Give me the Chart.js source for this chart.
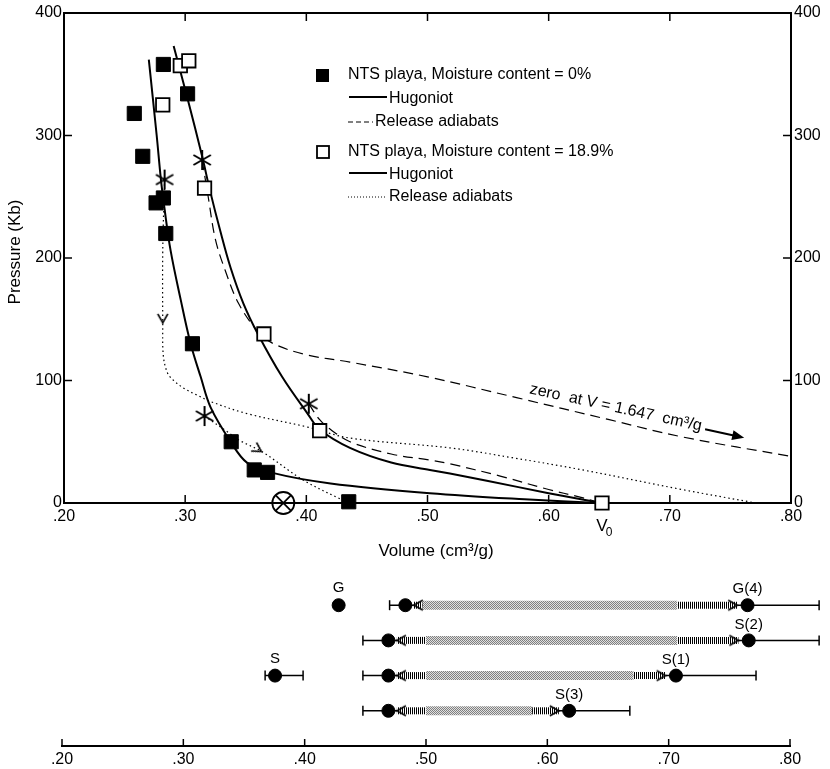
<!DOCTYPE html>
<html>
<head>
<meta charset="utf-8">
<script src="https://cdn.jsdelivr.net/npm/chart.js@4.4.0/dist/chart.umd.min.js"></script>
<style>
  html, body { margin: 0; padding: 0; background: #fff; }
  #wrap { position: relative; width: 830px; height: 769px; }
  #top { position: absolute; left: 0; top: 0; }
  #bottom { position: absolute; left: 0; top: 560px; }
</style>
</head>
<body>
<div id="wrap">
  <canvas id="top" width="830" height="560"></canvas>
  <canvas id="bottom" width="830" height="209"></canvas>
</div>
<script>
// ---- upper panel: pressure (kb) vs volume (cm3/g) ----
var dryVol   = [0.282, 0.302, 0.258, 0.265, 0.276, 0.282, 0.284, 0.306, 0.338, 0.357, 0.368, 0.435];
var dryPres  = [358, 334, 318, 283, 245, 249, 220, 130, 50, 27, 25, 1];
var wetVol   = [0.296, 0.303, 0.2815, 0.316, 0.365, 0.411, 0.644];
var wetPres  = [357, 361, 325, 257, 138, 59, 0];
var starVol  = [0.283, 0.314, 0.316, 0.402];
var starPres = [264, 280, 71, 81];
var crossVol = [0.381];
var crossPres = [0];

var hugDryVol  = [0.270, 0.2765, 0.280, 0.283, 0.288, 0.2963, 0.3045, 0.3128, 0.321, 0.3375, 0.351, 0.373, 0.42, 0.502, 0.58, 0.642];
var hugDryPres = [362, 300, 264, 240, 206, 166, 130, 103, 78, 50, 33, 24.4, 16, 8, 3, 0];
var hugWetVol  = [0.2905, 0.302, 0.314, 0.3205, 0.329, 0.3375, 0.348, 0.360, 0.380, 0.401, 0.411, 0.436, 0.47, 0.502, 0.5185, 0.55, 0.60, 0.644];
var hugWetPres = [373, 330, 283, 255, 222, 192, 163, 138, 103, 73, 60, 45, 33, 27, 24, 18, 8, 0];

var dashAVol  = [0.314, 0.319, 0.325, 0.333, 0.344, 0.360, 0.373, 0.40, 0.436, 0.50, 0.5735, 0.65, 0.71, 0.80];
var dashAPres = [280, 250, 215, 190, 163, 140, 130, 121, 115, 103, 86, 68, 54, 38];
var dashBVol  = [0.402, 0.411, 0.42, 0.436, 0.47, 0.502, 0.5185, 0.56, 0.60, 0.625, 0.64];
var dashBPres = [81, 68, 60, 50, 40, 35, 32, 22, 11, 5, 1];
var dotAVol  = [0.283, 0.2815, 0.2815, 0.282, 0.2855, 0.2905, 0.30, 0.31, 0.3205, 0.351, 0.401, 0.436, 0.5185, 0.57, 0.628, 0.71, 0.771];
var dotAPres = [264, 206, 147, 120, 106, 100, 93, 88, 83, 73, 62, 53, 45, 37, 27, 11, 0];
var dotBVol  = [0.316, 0.335, 0.345, 0.364, 0.397, 0.43, 0.437];
var dotBPres = [71, 58, 51, 41.5, 19, 2.4, 0];
var arrowVol  = [0.2815, 0.363];
var arrowPres = [147, 42];
var arrowDir  = [90, 32];

var legendLabels = ['NTS playa, Moisture content = 0%', 'Hugoniot', 'Release adiabats',
                    'NTS playa, Moisture content = 18.9%', 'Hugoniot', 'Release adiabats'];

// ---- lower panel: volume ranges ----
var rowPos   = [1, 2, 3, 4];
var rowName  = ['G(4)', 'S(2)', 'S(1)', 'S(3)'];
var capLo    = [0.470, 0.448, 0.448, 0.448];
var capHi    = [0.824, 0.824, 0.772, 0.668];
var dotLo    = [0.483, 0.469, 0.469, 0.469];
var dotHi    = [0.765, 0.766, 0.706, 0.618];
var shadeLo  = [0.497, 0.500, 0.500, 0.500];
var shadeHi  = [0.707, 0.707, 0.671, 0.5875];
var loneName = ['G', 'S'];
var loneVol  = [0.428, 0.3756];
var loneRow  = [1, 3];
var loneLo   = [0.3674];
var loneHi   = [0.3987];

var FONT = '"Liberation Sans", Arial, sans-serif';
Chart.defaults.font.family = FONT;
Chart.defaults.color = '#000';

function pts(xs, ys) {
  return xs.map(function (x, i) { return { x: x, y: ys[i] }; });
}
function fmtVol(v) {
  return v.toFixed(2).replace(/^0/, '');
}

function chevron(len, half) {
  var c = document.createElement('canvas');
  c.width = c.height = 2 * len + 4;
  var g = c.getContext('2d'), m = len + 2;
  g.strokeStyle = '#000'; g.lineWidth = 1.5;
  g.beginPath();
  g.moveTo(m - len, m - half);
  g.lineTo(m, m);
  g.lineTo(m - len, m + half);
  g.stroke();
  return c;
}
function asterisk(r) {
  var c = document.createElement('canvas');
  c.width = c.height = 2 * r + 4;
  var g = c.getContext('2d'), m = r + 2;
  g.strokeStyle = '#000'; g.lineWidth = 2;
  [90, 30, 150].forEach(function (a) {
    var t = a * Math.PI / 180;
    g.beginPath();
    g.moveTo(m - r * Math.cos(t), m - r * Math.sin(t));
    g.lineTo(m + r * Math.cos(t), m + r * Math.sin(t));
    g.stroke();
  });
  return c;
}
function pattern(kind) {
  var c = document.createElement('canvas');
  var g = c.getContext('2d');
  if (kind === 'stipple') {
    c.width = 2; c.height = 2;
    g.fillStyle = '#e0e0e0'; g.fillRect(0, 0, 2, 2);
    g.fillStyle = '#808080'; g.fillRect(0, 0, 1, 1); g.fillRect(1, 1, 1, 1);
  } else {
    c.width = 2; c.height = 1;
    g.fillStyle = '#fff'; g.fillRect(0, 0, 2, 1);
    g.fillStyle = '#000'; g.fillRect(0, 0, 1, 1);
  }
  return g.createPattern(c, 'repeat');
}

function innerTicks(chart, len) {
  var ctx = chart.ctx, a = chart.chartArea;
  ctx.save();
  ctx.strokeStyle = '#000';
  ctx.lineWidth = 1.5;
  Object.keys(chart.scales).forEach(function (k) {
    var s = chart.scales[k];
    if (!s.options.display) return;
    s.ticks.forEach(function (t) {
      var p = s.getPixelForValue(t.value);
      ctx.beginPath();
      if (s.position === 'bottom') { ctx.moveTo(p, a.bottom); ctx.lineTo(p, a.bottom - len); }
      else if (s.position === 'top') { ctx.moveTo(p, a.top); ctx.lineTo(p, a.top + len); }
      else if (s.position === 'left') { ctx.moveTo(a.left, p); ctx.lineTo(a.left + len, p); }
      else { ctx.moveTo(a.right, p); ctx.lineTo(a.right - len, p); }
      ctx.stroke();
    });
  });
  ctx.restore();
}

var mainNotes = {
  id: 'mainNotes',
  afterDraw: function (chart) {
    innerTicks(chart, 8);
    var ctx = chart.ctx;
    ctx.save();
    ctx.fillStyle = '#000';
    ctx.strokeStyle = '#000';
    ctx.textBaseline = 'middle';
    ctx.textAlign = 'left';
    ctx.font = '16px ' + FONT;

    // legend block
    ctx.fillRect(316, 69, 13, 13);
    ctx.fillText(legendLabels[0], 348, 75);
    ctx.lineWidth = 2;
    ctx.beginPath(); ctx.moveTo(349, 97); ctx.lineTo(387, 97); ctx.stroke();
    ctx.fillText(legendLabels[1], 389, 99);
    ctx.lineWidth = 1;
    ctx.setLineDash([5, 3]);
    ctx.beginPath(); ctx.moveTo(348, 122); ctx.lineTo(373, 122); ctx.stroke();
    ctx.setLineDash([]);
    ctx.fillText(legendLabels[2], 375, 122);
    ctx.lineWidth = 1.8;
    ctx.strokeRect(317, 146, 12, 12);
    ctx.fillText(legendLabels[3], 348, 152);
    ctx.lineWidth = 2;
    ctx.beginPath(); ctx.moveTo(349, 173); ctx.lineTo(387, 173); ctx.stroke();
    ctx.fillText(legendLabels[4], 389, 175);
    ctx.lineWidth = 1;
    ctx.setLineDash([1, 2]);
    ctx.beginPath(); ctx.moveTo(348, 197); ctx.lineTo(385, 197); ctx.stroke();
    ctx.setLineDash([]);
    ctx.fillText(legendLabels[5], 389, 197);

    // rotated note on the release adiabat
    ctx.save();
    ctx.translate(530, 389);
    ctx.rotate(12.3 * Math.PI / 180);
    ctx.font = '16px ' + FONT;
    var note = 'zero  at V = 1.647  cm\u00B3/g';
    ctx.fillText(note, 0, 0);
    var w = ctx.measureText(note).width;
    ctx.lineWidth = 2;
    ctx.beginPath(); ctx.moveTo(w + 4, 2); ctx.lineTo(w + 38, 2); ctx.stroke();
    ctx.beginPath(); ctx.moveTo(w + 44, 2); ctx.lineTo(w + 32, -3); ctx.lineTo(w + 32, 7); ctx.closePath(); ctx.fill();
    ctx.restore();

    // V0 mark
    var xs = chart.scales.x;
    var v0 = xs.getPixelForValue(wetVol[wetVol.length - 1]);
    ctx.font = '17px ' + FONT;
    ctx.textAlign = 'center';
    ctx.fillText('V', v0, 526);
    ctx.font = '12px ' + FONT;
    ctx.fillText('0', v0 + 7, 533);

    // axis titles
    ctx.font = '17px ' + FONT;
    ctx.fillText('Volume (cm\u00B3/g)', 436, 551);
    ctx.save();
    ctx.translate(15, 252);
    ctx.rotate(-Math.PI / 2);
    ctx.fillText('Pressure (Kb)', 0, 0);
    ctx.restore();
    ctx.restore();
  }
};

var star = asterisk(10);
var arrowSmall = chevron(9, 5);

function curve(xs, ys, width, dash) {
  return {
    data: pts(xs, ys), showLine: true, tension: 0.35, borderColor: '#000',
    borderWidth: width, borderDash: dash, pointRadius: 0, clip: false
  };
}

new Chart(document.getElementById('top'), {
  type: 'scatter',
  data: {
    datasets: [
      { data: pts(starVol, starPres), pointStyle: star, pointRadius: 10, clip: false },
      { data: pts(arrowVol, arrowPres), pointStyle: arrowSmall, pointRotation: arrowDir, pointRadius: 9, clip: false },
      { data: pts(wetVol, wetPres), pointStyle: 'rect', pointRadius: 9.5, pointBackgroundColor: '#fff',
        pointBorderColor: '#000', pointBorderWidth: 1.8, clip: false },
      { data: pts(dryVol, dryPres), pointStyle: 'rect', pointRadius: 10, pointBackgroundColor: '#000',
        pointBorderColor: '#000', pointBorderWidth: 1, clip: false },
      { data: pts(crossVol, crossPres), pointStyle: 'circle', pointRadius: 11, pointBackgroundColor: 'rgba(0,0,0,0)',
        pointBorderColor: '#000', pointBorderWidth: 1.8, clip: false },
      { data: pts(crossVol, crossPres), pointStyle: 'crossRot', pointRadius: 11,
        pointBorderColor: '#000', pointBorderWidth: 1.8, clip: false },
      curve(hugDryVol, hugDryPres, 2, []),
      curve(hugWetVol, hugWetPres, 2, []),
      curve(dashAVol, dashAPres, 1.2, [10, 6]),
      curve(dashBVol, dashBPres, 1.2, [10, 6]),
      curve(dotAVol, dotAPres, 1.2, [1.5, 3]),
      curve(dotBVol, dotBPres, 1.2, [1.5, 3])
    ]
  },
  options: {
    responsive: false,
    animation: false,
    plugins: { legend: { display: false }, tooltip: { enabled: false } },
    layout: { padding: 0 },
    scales: {
      x: {
        type: 'linear', position: 'bottom', min: 0.2, max: 0.8,
        ticks: { stepSize: 0.1, callback: fmtVol, padding: 4, maxRotation: 0, font: { size: 16 } },
        grid: { display: false, drawTicks: false },
        border: { display: true, color: '#000', width: 2 },
        afterFit: function (s) { s.height = 57; }
      },
      x2: {
        type: 'linear', position: 'top', min: 0.2, max: 0.8,
        ticks: { display: false, stepSize: 0.1 },
        grid: { display: false, drawTicks: false },
        border: { display: true, color: '#000', width: 2 },
        afterFit: function (s) { s.height = 13; }
      },
      y: {
        type: 'linear', position: 'left', min: 0, max: 400,
        ticks: { stepSize: 100, padding: 2, font: { size: 16 } },
        grid: { display: false, drawTicks: false },
        border: { display: true, color: '#000', width: 2 },
        afterFit: function (s) { s.width = 64; }
      },
      y2: {
        type: 'linear', position: 'right', min: 0, max: 400,
        ticks: { stepSize: 100, padding: 3, font: { size: 16 } },
        grid: { display: false, drawTicks: false },
        border: { display: true, color: '#000', width: 2 },
        afterFit: function (s) { s.width = 39; }
      }
    }
  },
  plugins: [mainNotes]
});

// ---- lower panel ----
var stipple = pattern('stipple');
var hatch = pattern('hatch');
var tipLo = dotLo.map(function (v) { return v + 0.007; });
var tipHi = dotHi.map(function (v) { return v - 0.0085; });
var arrowRow = chevron(9, 5);

function band(x0, x1, r, fill, width) {
  return {
    data: [{ x: x0, y: r }, { x: x1, y: r }], showLine: true, borderColor: fill,
    borderWidth: width, borderCapStyle: 'butt', pointRadius: 0, clip: false
  };
}
function errBar(x0, x1, r) {
  return {
    data: [{ x: x0, y: r }, { x: x1, y: r }], showLine: true, borderColor: '#000', borderWidth: 1.5,
    pointRadius: 0, clip: false
  };
}

var lowSets = [
  { data: pts(dotLo, rowPos).concat(pts(dotHi, rowPos), pts(loneVol, loneRow)), pointStyle: 'circle',
    pointRadius: 6.5, pointBackgroundColor: '#000', pointBorderColor: '#000', clip: false },
  { data: pts(tipLo, rowPos), pointStyle: arrowRow, pointRotation: 180, pointRadius: 9, clip: false },
  { data: pts(tipHi, rowPos), pointStyle: arrowRow, pointRotation: 0, pointRadius: 9, clip: false }
];
rowPos.forEach(function (r, i) {
  lowSets.push(band(tipLo[i], shadeLo[i], r, hatch, 7));
  lowSets.push(band(shadeHi[i], tipHi[i], r, hatch, 7));
  lowSets.push(band(shadeLo[i], shadeHi[i], r, stipple, 9));
  lowSets.push(errBar(capLo[i], capHi[i], r));
});
lowSets.push(errBar(loneLo[0], loneHi[0], loneRow[1]));

var lowNotes = {
  id: 'lowNotes',
  afterDraw: function (chart) {
    innerTicks(chart, 7);
    var ctx = chart.ctx, xs = chart.scales.x, ys = chart.scales.y;
    ctx.save();
    ctx.strokeStyle = '#000';
    ctx.lineWidth = 1.5;
    // end caps of the range bars
    function cap(v, r) {
      var px = xs.getPixelForValue(v), py = ys.getPixelForValue(r);
      ctx.beginPath(); ctx.moveTo(px, py - 5); ctx.lineTo(px, py + 5); ctx.stroke();
    }
    rowPos.forEach(function (r, i) { cap(capLo[i], r); cap(capHi[i], r); });
    cap(loneLo[0], loneRow[1]); cap(loneHi[0], loneRow[1]);

    ctx.fillStyle = '#000';
    ctx.font = '15px ' + FONT;
    ctx.textAlign = 'center';
    ctx.textBaseline = 'middle';
    rowName.forEach(function (n, i) {
      ctx.fillText(n, xs.getPixelForValue(dotHi[i]), ys.getPixelForValue(rowPos[i]) - 16);
    });
    loneName.forEach(function (n, i) {
      ctx.fillText(n, xs.getPixelForValue(loneVol[i]), ys.getPixelForValue(loneRow[i]) - 17);
    });
    ctx.restore();
  }
};

new Chart(document.getElementById('bottom'), {
  type: 'scatter',
  data: { datasets: lowSets },
  options: {
    responsive: false,
    animation: false,
    plugins: { legend: { display: false }, tooltip: { enabled: false } },
    layout: { padding: { left: 62, right: 40, top: 5, bottom: 0 } },
    scales: {
      x: {
        type: 'linear', position: 'bottom', min: 0.2, max: 0.8,
        ticks: { stepSize: 0.1, callback: fmtVol, padding: 4, maxRotation: 0, font: { size: 16 } },
        grid: { display: false, drawTicks: false },
        border: { display: true, color: '#000', width: 2 },
        afterFit: function (s) { s.height = 23; }
      },
      y: { type: 'linear', display: false, min: 0, max: 5, reverse: true }
    }
  },
  plugins: [lowNotes]
});
</script>
</body>
</html>
